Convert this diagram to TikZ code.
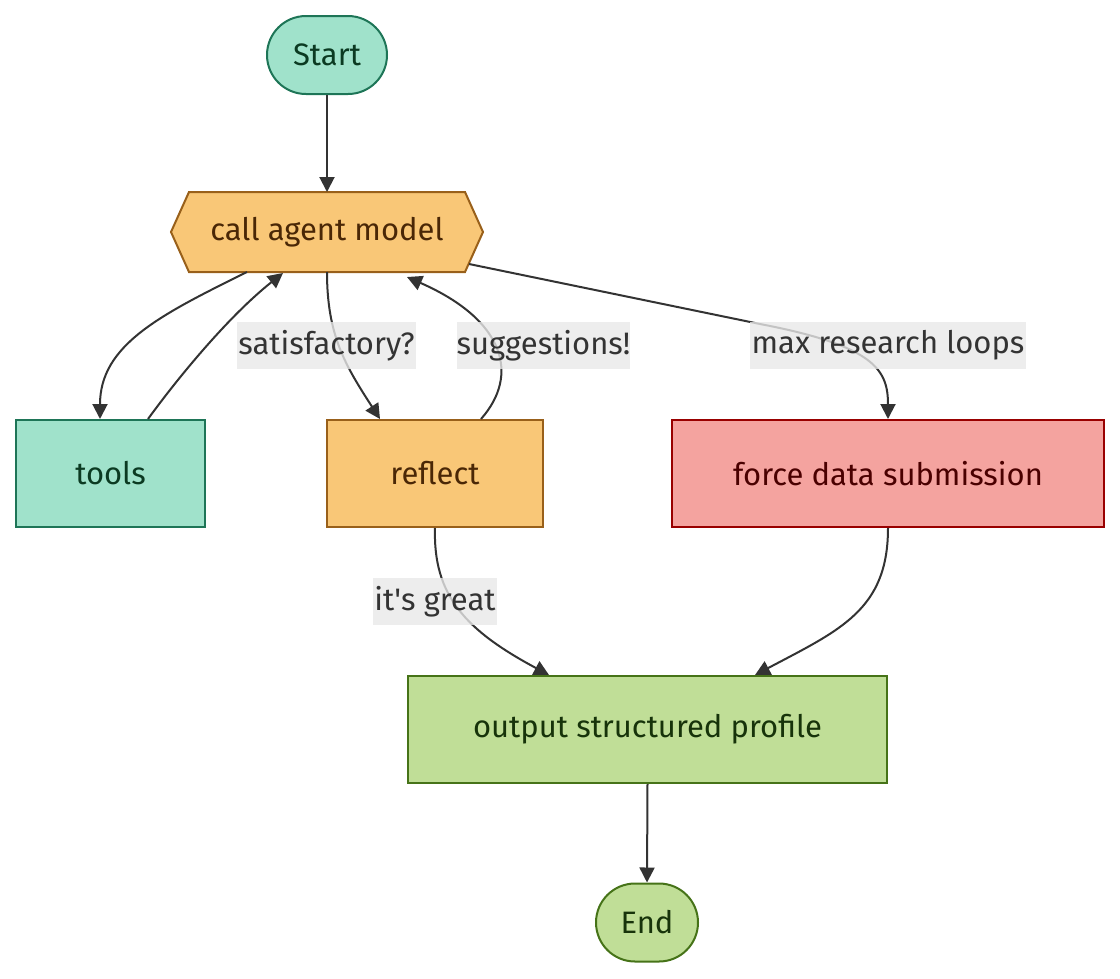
\documentclass[tikz,border=0pt]{standalone}
\usepackage{fontspec}
\setmainfont{Fira Sans}
\usetikzlibrary{calc,arrows.meta}
\definecolor{tealfill}{HTML}{A0E2CB}
\definecolor{tealline}{HTML}{1E7557}
\definecolor{tealtext}{HTML}{0B3A22}
\definecolor{orfill}{HTML}{F9C777}
\definecolor{orline}{HTML}{99601A}
\definecolor{ortext}{HTML}{4A2706}
\definecolor{redfill}{HTML}{F4A39F}
\definecolor{redline}{HTML}{990000}
\definecolor{redtext}{HTML}{4A0000}
\definecolor{grfill}{HTML}{C0DE97}
\definecolor{grline}{HTML}{467318}
\definecolor{grtext}{HTML}{17330A}
\definecolor{edgecol}{HTML}{333333}
\definecolor{lblbg}{HTML}{E8E8E8}
\begin{document}
\begin{tikzpicture}[x=1pt,y=-1pt,
  base/.style={font=\fontsize{31}{36}\selectfont, line width=2pt, inner sep=0pt},
  stadium/.style={base, rounded corners=39pt, minimum height=78pt},
  boxnode/.style={base, minimum height=107pt},
  tealnode/.style={fill=tealfill, draw=tealline, text=tealtext},
  ornode/.style={fill=orfill, draw=orline, text=ortext},
  rednode/.style={fill=redfill, draw=redline, text=redtext},
  grnode/.style={fill=grfill, draw=grline, text=grtext},
  edge/.style={draw=edgecol, line width=2pt, -{Triangle[length=15pt,width=15pt]}},
  lbl/.style={font=\fontsize{31}{36}\selectfont, text=edgecol, fill=lblbg, fill opacity=0.8, text opacity=1, inner sep=0pt, minimum height=47pt}
]
\useasboundingbox (0,0) rectangle (1120,978);

\node[stadium, tealnode, minimum width=120pt] (start) at (327,55) {Start};
\node[base, minimum width=310pt, minimum height=78pt] (call) at (327,232) {};
\path[fill=orfill, draw=orline, line width=2pt]
  (call.west) -- ($(call.north west)+(18,0)$) -- ($(call.north east)+(-18,0)$) -- (call.east)
  -- ($(call.south east)+(-18,0)$) -- ($(call.south west)+(18,0)$) -- cycle;
\node[base, text=ortext] (calltext) at (call.center) {call agent model};
\node[boxnode, tealnode, minimum width=189pt] (tools) at (110.5,473.5) {tools};
\node[boxnode, ornode, minimum width=216pt] (reflect) at (435,473.5) {reflect};
\node[boxnode, rednode, minimum width=432pt] (force) at (888,473.5) {force data submission};
\node[boxnode, grnode, minimum width=479pt] (out) at (647.5,729.5) {output structured profile};
\node[stadium, grnode, minimum width=102pt] (end) at (647,922.5) {End};

\draw[edge] (start) -- (call.north);
\draw[edge] ($(call.south)+(-80,0)$) .. controls (160,315) and (100,345) .. ($(tools.north)+(-10.5,0)$);
\draw[edge] ($(tools.north)+(37.5,0)$) .. controls (180,375) and (230,315) .. ($(call.south)+(-44,1)$);
\draw[edge] (call.south) .. controls (327,335) and (345,365) .. ($(reflect.north)+(-55,0)$);
\draw[edge] ($(reflect.north)+(46,0)$) .. controls (520,375) and (505,320) .. ($(call.south)+(80,5)$);
\coordinate (bend) at (760,324);
\draw[edge] ($(call.east)+(-14,32)$) -- (bend) .. controls (875,346) and (888,370) .. (force.north);
\draw[edge] (reflect.south) .. controls (433,595) and (465,630) .. ($(out.north)+(-98.5,0)$);
\draw[edge] (force.south) .. controls (888,610) and (840,630) .. ($(out.north)+(107.5,0)$);
\draw[edge] (out.south) -- (end.north);

\node[lbl, minimum width=179pt] (l1) at (326.5,345.5) {satisfactory?};
\node[lbl, minimum width=173pt] (l2) at (543.5,345.5) {suggestions!};
\node[lbl, minimum width=276pt] (l3) at (888,345.5) {max research loops};
\node[lbl, minimum width=124pt] (l4) at (435,601.5) {it\textquotesingle s great};
\end{tikzpicture}
\end{document}
